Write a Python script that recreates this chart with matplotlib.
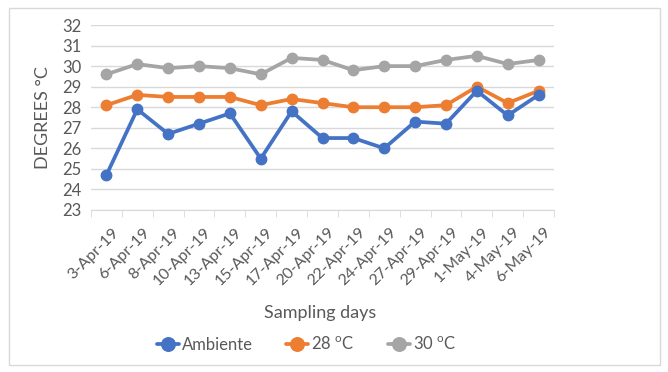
import matplotlib
matplotlib.use("Agg")
import matplotlib.pyplot as plt
import matplotlib.transforms as mtransforms
from matplotlib.patches import Rectangle

days = ['3-Apr-19', '6-Apr-19', '8-Apr-19', '10-Apr-19', '13-Apr-19',
        '15-Apr-19', '17-Apr-19', '20-Apr-19', '22-Apr-19', '24-Apr-19',
        '27-Apr-19', '29-Apr-19', '1-May-19', '4-May-19', '6-May-19']

ambiente = [24.7, 27.9, 26.7, 27.2, 27.7, 25.5, 27.8, 26.5, 26.5, 26.0,
            27.3, 27.2, 28.8, 27.6, 28.6]
t28 = [28.1, 28.6, 28.5, 28.5, 28.5, 28.1, 28.4, 28.2, 28.0, 28.0,
       28.0, 28.1, 29.0, 28.2, 28.8]
t30 = [29.6, 30.1, 29.9, 30.0, 29.9, 29.6, 30.4, 30.3, 29.8, 30.0,
       30.0, 30.3, 30.5, 30.1, 30.3]

series = [
    ('Ambiente', ambiente, '#4472C4'),
    ('28 $^{\\mathrm{o}}$C', t28, '#ED7D31'),
    ('30 $^{\\mathrm{o}}$C', t30, '#A5A5A5'),
]

plt.rcParams['font.family'] = ['Lato', 'DejaVu Sans']
plt.rcParams['mathtext.fontset'] = 'custom'
plt.rcParams['mathtext.rm'] = 'Lato'
text_c = '#595959'

fig = plt.figure(figsize=(6.68, 3.72), dpi=100)
fig.patches.append(Rectangle((9 / 668, 1 - 365 / 372), 651 / 668, 357 / 372,
                             transform=fig.transFigure, fill=False,
                             edgecolor='#D9D9D9', linewidth=1))
ax = fig.add_axes([91 / 668, 1 - 210 / 372, 463 / 668, 185 / 372])

x = list(range(len(days)))
for name, vals, col in series[::-1]:
    ax.plot(x, vals, color=col, linewidth=2.7, marker='o', markersize=7.5,
            label=name, solid_capstyle='round')

ax.set_xlim(-0.5, len(days) - 0.5)
ax.set_ylim(23, 32)
ax.set_yticks(range(23, 33))
ax.yaxis.grid(True, color='#D9D9D9', linewidth=1)
ax.set_axisbelow(True)
for s in ['left', 'right', 'top']:
    ax.spines[s].set_visible(False)
ax.spines['bottom'].set_color('#D9D9D9')
ax.tick_params(axis='y', length=0, labelsize=12, labelcolor=text_c, pad=7)

ax.set_xticks(x)
ax.set_xticklabels(days, rotation=45, ha='right', rotation_mode='anchor',
                   fontsize=11.5, color=text_c)
ax.tick_params(axis='x', which='major', length=0, pad=11)
# nudge the slanted date labels a little to the right of each category
shift = mtransforms.ScaledTranslation(5 / 100, 0, fig.dpi_scale_trans)
for lbl in ax.get_xticklabels():
    lbl.set_transform(lbl.get_transform() + shift)
ax.set_xticks([i - 0.5 for i in range(len(days) + 1)], minor=True)
ax.tick_params(axis='x', which='minor', length=5, color='#D9D9D9', direction='out')

ax.set_ylabel('DEGREES °C', fontsize=13, color=text_c, labelpad=8)
fig.text(320 / 668, 1 - 313 / 372, 'Sampling days', fontsize=13, color=text_c,
         ha='center', va='center')

handles, labels = ax.get_legend_handles_labels()
fig.legend(handles[::-1], labels[::-1], loc='center', ncol=3,
           bbox_to_anchor=(307 / 668, 1 - 344 / 372), frameon=False,
           fontsize=12, labelcolor=text_c, handlelength=1.3,
           handletextpad=0.2, columnspacing=2.0, markerscale=1.3)

fig.savefig('out.png', dpi=100)
